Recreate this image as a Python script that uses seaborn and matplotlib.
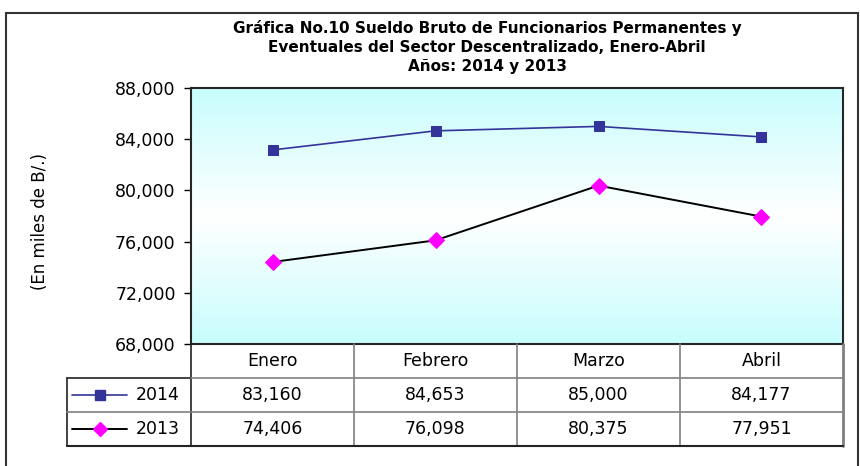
import numpy as np
import pandas as pd
import matplotlib.pyplot as plt
import seaborn as sns
from matplotlib.colors import LinearSegmentedColormap
from matplotlib.patches import Rectangle

meses = ["Enero", "Febrero", "Marzo", "Abril"]
anios = ["2014", "2013"]
sueldo_2014 = [83160, 84653, 85000, 84177]
sueldo_2013 = [74406, 76098, 80375, 77951]
yticks = [68000, 72000, 76000, 80000, 84000, 88000]

titulo = ["Gráfica No.10 Sueldo Bruto de Funcionarios Permanentes y",
          "Eventuales del Sector Descentralizado, Enero-Abril",
          "Años: 2014 y 2013"]

sns.set_style("white", rc={"text.color": "black", "ytick.color": "black",
                           "xtick.color": "black", "axes.labelcolor": "black"})
plt.rcParams["font.family"] = ["DejaVu Sans"]

df = pd.DataFrame({
    "pos": list(range(len(meses))) * 2,
    "anio": ["2014"] * 4 + ["2013"] * 4,
    "valor": sueldo_2014 + sueldo_2013,
})

estilo = {
    "2014": dict(color="#333399", marker="s", markersize=7.5, markerfacecolor="#333399",
                 markeredgecolor="#333399", linewidth=1.2),
    "2013": dict(color="black", marker="D", markersize=8, markerfacecolor="#ff00ff",
                 markeredgecolor="#ff00ff", linewidth=1.4),
}

W, H = 860, 466
fs = 12.5
fig = plt.figure(figsize=(W / 100, H / 100), dpi=100)

# marco exterior
fig.patches.append(Rectangle((6 / W, -0.05), 852 / W, 1.05 - 13 / H, transform=fig.transFigure,
                             fill=False, edgecolor="#333333", linewidth=1.5))

px_l, px_r, px_t, px_b = 191, 843, 88, 344
ax = fig.add_axes([px_l / W, 1 - px_b / H, (px_r - px_l) / W, (px_b - px_t) / H])

# fondo degradado
cmap = LinearSegmentedColormap.from_list("fondo", ["#c8fdfd", "#ffffff", "#c8fdfd"])
grad = np.linspace(0, 1, 256).reshape(-1, 1)
ax.imshow(grad, extent=[-0.5, 3.5, 68000, 88000], aspect="auto", cmap=cmap, zorder=0)

for anio in anios:
    sns.lineplot(data=df[df["anio"] == anio], x="pos", y="valor", ax=ax, legend=False,
                 zorder=3, **estilo[anio])

ax.set_xlim(-0.5, 3.5)
ax.set_ylim(68000, 88000)
ax.set_xticks([])
ax.set_yticks(yticks)
ax.set_yticklabels([f"{v:,}" for v in yticks], fontsize=fs)
ax.tick_params(axis="y", direction="out", length=5, width=1, color="black", pad=6, left=True)
ax.set_xlabel("")
ax.set_ylabel("")
for s in ax.spines.values():
    s.set_color("#262626")
    s.set_linewidth(1.5)

fig.text(40 / W, 1 - 221 / H, "(En miles de B/.)", rotation=90, ha="center", va="center",
         fontsize=12)

for i, linea in enumerate(titulo):
    fig.text(487 / W, 1 - (28 + 19.5 * i) / H, linea, ha="center", va="center",
             fontsize=11, fontweight="bold")

# tabla de datos
cat_w = (px_r - px_l) / 4
tab_l, tab_b = 67, 446
x_left = -0.5 - (px_l - tab_l) / cat_w
tab = fig.add_axes([tab_l / W, 1 - tab_b / H, (px_r - tab_l) / W, (tab_b - px_b) / H])
tab.set_xlim(x_left, 3.5)
tab.set_ylim(3, 0)
tab.axis("off")

gris = "#808080"
for xs in [0.5, 1.5, 2.5]:
    tab.plot([xs, xs], [0, 3], color=gris, lw=1.2, clip_on=False)
tab.plot([3.5, 3.5], [0, 3], color=gris, lw=2, clip_on=False)
tab.plot([-0.5, -0.5], [0, 3], color="#222222", lw=1.2, clip_on=False)
tab.plot([x_left, x_left], [1, 3], color="#222222", lw=1.2, clip_on=False)
tab.plot([x_left, -0.5], [1, 1], color="#222222", lw=1.2, clip_on=False)
tab.plot([-0.5, 3.5], [1, 1], color=gris, lw=1.2, clip_on=False)
tab.plot([x_left, 3.5], [2, 2], color=gris, lw=1.2, clip_on=False)
tab.plot([x_left, 3.5], [3, 3], color="#222222", lw=1.5, clip_on=False)

for i, mes in enumerate(meses):
    tab.text(i, 0.5, mes, ha="center", va="center", fontsize=fs)

series = {"2014": sueldo_2014, "2013": sueldo_2013}
for r, anio in enumerate(anios):
    y = 1.5 + r
    for i, v in enumerate(series[anio]):
        tab.text(i, y, f"{v:,}", ha="center", va="center", fontsize=fs)
    e = estilo[anio]
    lx0 = -0.5 + (72 - px_l) / cat_w
    lx1 = -0.5 + (127 - px_l) / cat_w
    tab.plot([lx0, lx1], [y, y], color=e["color"], lw=e["linewidth"], clip_on=False)
    tab.plot([(lx0 + lx1) / 2], [y], linestyle="none", marker=e["marker"],
             markersize=e["markersize"] * 0.9, markerfacecolor=e["markerfacecolor"],
             markeredgecolor=e["markeredgecolor"], clip_on=False)
    tab.text(-0.5 + (180 - px_l) / cat_w, y, anio, ha="right", va="center", fontsize=fs)

fig.savefig("out.png", dpi=100)
